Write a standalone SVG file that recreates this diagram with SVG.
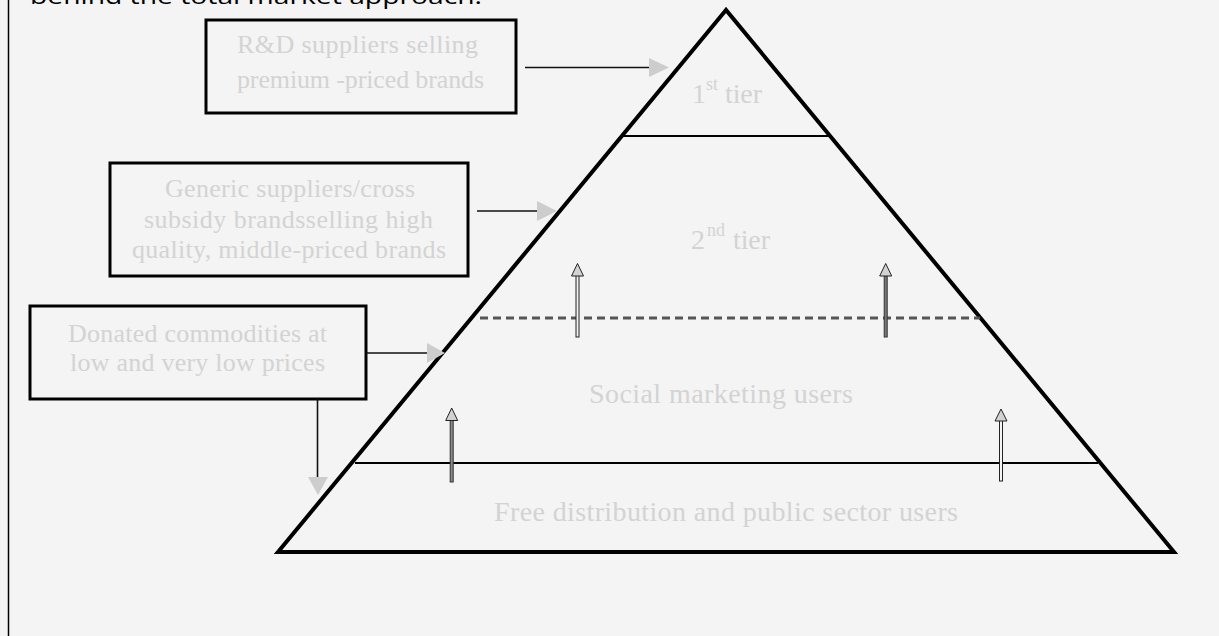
<svg xmlns="http://www.w3.org/2000/svg" width="1219" height="636" viewBox="0 0 1219 636">
<style>
.lbl{font-family:"Liberation Serif","Times New Roman",serif;fill:#d3d3d3}
.box{fill:#f4f4f4;stroke:#000;stroke-width:3}
.conn{stroke:#111;stroke-width:1.6;fill:none}
.head{fill:#cdcdcd;stroke:none}
.uphead{fill:#d2d2d2;stroke:#222;stroke-width:1}
.tier{stroke:#000;stroke-width:2;fill:none}
</style>
<rect x="0" y="0" width="1219" height="636" fill="#f4f4f4"/>
<line x1="8.5" y1="0" x2="8.5" y2="636" stroke="#000" stroke-width="1.5"/>
<text x="30" y="4" font-family="'Open Sans','DejaVu Sans',sans-serif" font-size="22" fill="#000" textLength="452" lengthAdjust="spacingAndGlyphs">behind the total market approach.</text>

<g id="pyramid">
<polygon points="726,10 278,552 1174,552" fill="none" stroke="#000" stroke-width="4"/>
<line class="tier" x1="623" y1="136" x2="829" y2="136"/>
<line x1="480" y1="318" x2="980" y2="318" stroke="#555" stroke-width="3" stroke-dasharray="8,5"/>
<line class="tier" x1="355" y1="463" x2="1098" y2="463"/>
</g>

<g id="tier1">
<text class="lbl" font-size="28" x="692" y="103">1</text>
<text class="lbl" font-size="18" x="706" y="90">st</text>
<text class="lbl" font-size="28" x="725" y="103" textLength="37">tier</text>
</g>
<g id="tier2">
<text class="lbl" font-size="28" x="691" y="249">2</text>
<text class="lbl" font-size="18" x="707" y="236" textLength="18">nd</text>
<text class="lbl" font-size="28" x="733" y="249" textLength="37">tier</text>
</g>
<g id="social">
<text class="lbl" font-size="28" x="589" y="403" textLength="264">Social marketing users</text>
</g>
<g id="free">
<text class="lbl" font-size="28" x="494" y="521" textLength="464">Free distribution and public sector users</text>
</g>

<g id="box-rd">
<rect class="box" x="206" y="20" width="310" height="93"/>
<text class="lbl" font-size="26" x="237" y="53" textLength="241">R&amp;D suppliers selling</text>
<text class="lbl" font-size="26" x="237" y="88" textLength="247">premium -priced brands</text>
</g>
<g id="box-generic">
<rect class="box" x="110" y="163" width="358" height="113"/>
<text class="lbl" font-size="26" x="165" y="197" textLength="250">Generic suppliers/cross</text>
<text class="lbl" font-size="26" x="144" y="228" textLength="289">subsidy brandsselling high</text>
<text class="lbl" font-size="26" x="132" y="258" textLength="314">quality, middle-priced brands</text>
</g>
<g id="box-donated">
<rect class="box" x="30" y="306" width="336" height="93"/>
<text class="lbl" font-size="26" x="68" y="342" textLength="259">Donated commodities at</text>
<text class="lbl" font-size="26" x="70" y="371" textLength="255">low and very low prices</text>
</g>

<g id="connectors">
<line class="conn" x1="525" y1="67.5" x2="650" y2="67.5"/>
<polygon class="head" points="649,58 669,67.5 649,77"/>
<line class="conn" x1="477" y1="211" x2="538" y2="211"/>
<polygon class="head" points="537,201 557,211 537,221"/>
<line class="conn" x1="366" y1="353" x2="428" y2="353"/>
<polygon class="head" points="427,343 445,353 427,363"/>
<line class="conn" x1="317.5" y1="399" x2="317.5" y2="478"/>
<polygon class="head" points="308,477 328,477 318,495"/>

<rect x="576" y="275" width="3" height="62" fill="#f0f0f0" stroke="#222" stroke-width="1"/>
<polygon class="uphead" points="577.5,263.5 571.5,276 583.5,276"/>
<rect x="884.2" y="275" width="3" height="62" fill="#777" stroke="#333" stroke-width="1"/>
<polygon class="uphead" points="885.7,263.5 879.7,276 891.7,276"/>
<rect x="450.2" y="420" width="3" height="62" fill="#888" stroke="#333" stroke-width="1"/>
<polygon class="uphead" points="451.7,408 445.7,420.5 457.7,420.5"/>
<rect x="999.5" y="420" width="3" height="61" fill="#f4f4f4" stroke="#222" stroke-width="1"/>
<polygon class="uphead" points="1001,409 995,421 1007,421"/>
</g>
</svg>
